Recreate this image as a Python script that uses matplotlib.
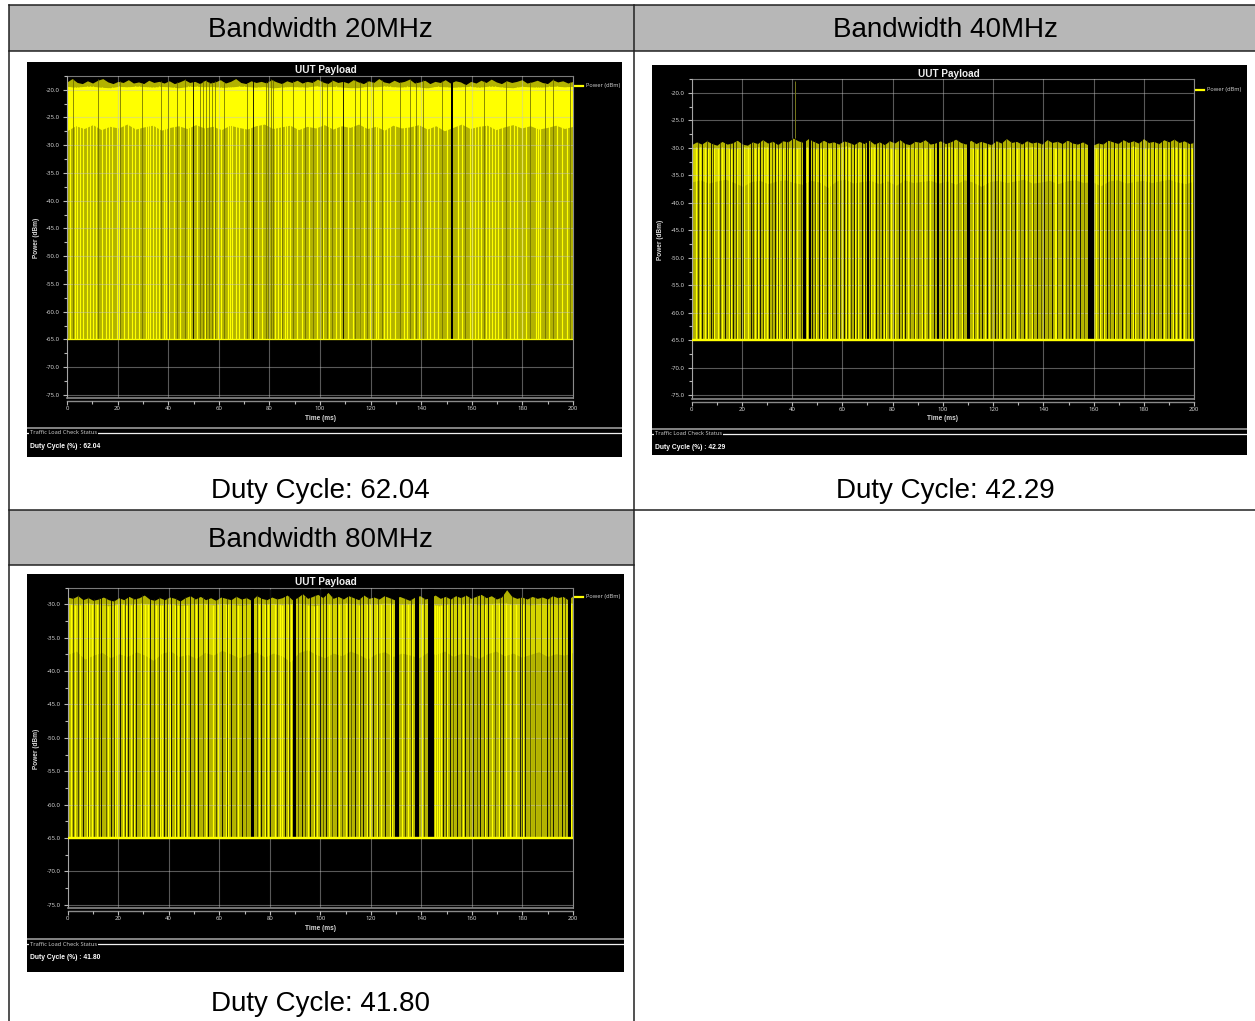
import numpy as np
import matplotlib
matplotlib.use('Agg')
import matplotlib.pyplot as plt
from matplotlib.patches import Rectangle

plt.rcParams['font.family'] = ['Noto Sans', 'DejaVu Sans']

W, H = 1255, 1021

# table text
HEADERS = ['Bandwidth 20MHz', 'Bandwidth 40MHz', 'Bandwidth 80MHz']
CAPTIONS = ['Duty Cycle: 62.04', 'Duty Cycle: 42.29', 'Duty Cycle: 41.80']
DUTY = ['62.04', '42.29', '41.80']

X_TICKS = [0, 20, 40, 60, 80, 100, 120, 140, 160, 180, 200]
Y_TICKS_A = [-20, -25, -30, -35, -40, -45, -50, -55, -60, -65, -70, -75]
Y_TICKS_C = [-30, -35, -40, -45, -50, -55, -60, -65, -70, -75]
FLOOR = -65.0

# 20 MHz
P1_TOP = [-18.6, -18.0, -18.7, -18.9, -18.4, -18.8, -18.3, -18.0, -18.6, -18.9, -18.5, -18.7, -18.2, -18.8, -18.6,
          -18.9, -18.3, -18.7, -18.5, -18.8, -18.4, -18.9, -18.6, -18.2, -18.7, -18.5, -18.9, -18.3, -18.8, -18.6,
          -18.2, -18.8, -18.5, -18.0, -18.7, -18.9, -18.4, -18.7, -18.5, -18.8, -18.2, -18.6, -18.9, -18.4, -18.7,
          -18.3, -18.8, -18.5, -18.7, -18.1, -18.6, -18.9, -18.3, -18.7, -18.5, -18.8, -18.2, -18.6, -18.9, -18.4,
          -18.7, -18.0, -18.6, -18.8, -18.3, -18.7, -18.5, -18.1, -18.8, -18.6, -18.3, -18.9, -18.5, -18.7, -18.2,
          -18.8, -18.4, -18.6, -19.1, -18.5, -18.8, -18.3, -18.7, -18.1, -18.6, -18.9, -18.4, -18.7, -18.5, -18.2,
          -18.8, -18.6, -18.3, -18.7, -18.9, -18.2, -18.6, -18.4, -18.8, -18.5]
P1_BRIGHT_TOP = [-19.4, -19.6, -19.3, -19.5, -19.7, -19.4, -19.5, -19.3, -19.6, -19.4, -19.5, -19.7, -19.3, -19.5, -19.4,
                 -19.6, -19.5, -19.3, -19.6, -19.4, -19.7, -19.5, -19.4, -19.6, -19.3, -19.5, -19.4, -19.6, -19.7, -19.4,
                 -19.5, -19.3, -19.6, -19.4, -19.5, -19.7, -19.3, -19.6, -19.5, -19.4, -19.6, -19.3, -19.5, -19.7, -19.4,
                 -19.5, -19.6, -19.3, -19.5, -19.4]
P1_SHOULDER = [-27.4, -26.5, -27.0, -26.3, -27.2, -26.6, -26.9, -26.2, -27.1, -26.7, -26.4, -27.3, -26.8, -26.5, -27.0,
               -26.3, -26.9, -26.6, -27.2, -26.4, -26.8, -27.1, -26.5, -26.2, -27.0, -26.7, -26.4, -27.2, -26.6, -26.9,
               -26.3, -27.1, -26.5, -26.8, -26.2, -27.0, -26.6, -27.3, -26.4, -26.9, -26.7, -26.3, -27.1, -26.5, -27.4,
               -26.8, -26.2, -27.0, -26.6, -26.4, -27.2, -26.7, -26.3, -26.9, -26.5, -27.1, -26.8, -26.4, -27.0, -26.6]
P1_BRIGHT = [1.2, 3.0, 4.1, 5.2, 6.3, 8.0, 9.1, 10.2, 11.4, 13.9, 15.5, 16.7, 17.8, 19.6, 20.5, 22.4, 24.2, 25.6,
             26.9, 28.5, 31.1, 32.0, 33.0, 34.1, 35.2, 36.3, 38.4, 39.3, 40.3, 42.1, 44.8, 47.9, 48.8, 51.2, 54.6,
             58.2, 59.5, 61.0, 63.5, 64.5, 65.4, 66.7, 67.9, 70.1, 72.2, 75.6, 77.0, 82.4, 83.4, 84.5, 86.0, 87.1,
             88.2, 91.0, 92.8, 95.7, 99.0, 101.3, 103.5, 106.2, 107.9, 111.1, 112.9, 115.7, 117.2, 119.9, 122.0,
             123.0, 125.2, 126.3, 127.6, 129.8, 133.1, 134.2, 137.0, 139.2, 142.3, 143.5, 144.9, 146.6, 150.0,
             154.5, 156.0, 159.2, 160.1, 161.1, 162.4, 163.7, 165.5, 166.7, 167.9, 169.0, 170.3, 172.0, 175.1,
             176.5, 177.8, 179.9, 181.5, 185.2, 186.1, 187.0, 190.6, 193.8, 195.6, 197.5]
P1_DIM = [2.5, 12.4, 21.0, 29.8, 37.2, 40.0, 43.6, 46.6, 52.5, 53.8, 55.0, 56.2, 57.4, 58.6, 62.2, 71.0, 78.6, 79.6,
          80.6, 81.6, 85.0, 89.5, 94.1, 97.4, 100.7, 102.6, 104.6, 113.8, 116.0, 118.4, 121.1, 124.5, 131.6, 135.6,
          138.0, 140.9, 148.1, 157.3, 165.0, 173.4, 183.0, 189.0, 192.2, 198.9]
P1_BLACK = [49.9, 73.6, 109.2]
P1_GAP_START = [151.6]
P1_GAP_END = [152.6]
P1_SPIKE = []

# 40 MHz
P2_TOP = [-29.4, -28.9, -29.3, -28.7, -29.2, -29.5, -28.8, -29.3, -29.1, -28.6, -29.3, -29.5, -28.9, -29.2, -28.5,
          -29.1, -28.8, -29.4, -28.7, -28.9, -28.2, -28.7, -29.0, -28.3, -28.8, -29.2, -28.6, -29.1, -28.9, -29.3,
          -28.7, -29.0, -29.4, -28.8, -29.2, -28.6, -29.3, -28.9, -29.4, -28.7, -29.1, -28.5, -29.2, -29.4, -28.8,
          -29.0, -28.5, -29.3, -29.1, -28.7, -29.2, -28.9, -28.4, -29.0, -29.3, -28.6, -29.2, -28.8, -29.1, -29.4,
          -28.7, -29.1, -28.3, -29.0, -28.8, -29.3, -28.7, -29.1, -28.9, -29.3, -28.5, -29.0, -28.8, -29.2, -28.6,
          -29.1, -29.3, -28.9, -29.4, -29.5, -29.1, -29.3, -28.6, -28.9, -29.2, -28.5, -29.0, -28.7, -29.1, -28.3,
          -29.0, -28.8, -29.2, -28.5, -28.9, -28.4, -29.0, -28.7, -29.2, -29.0]
P2_BRIGHT_TOP = [-30.0, -29.8, -30.1, -29.9, -30.2, -29.8, -30.0, -29.7, -30.1, -29.9, -30.0, -29.8, -30.2, -29.9, -30.0,
                 -29.7, -30.1, -29.9, -29.8, -30.0, -30.2, -29.8, -30.0, -29.9, -30.1, -29.7, -30.0, -29.9, -30.2, -29.8,
                 -30.0, -29.9, -30.1, -29.7, -30.0, -29.8, -30.2, -29.9, -30.0, -29.8, -30.1, -29.9, -30.0, -29.7, -30.1,
                 -29.9, -30.0, -29.8, -30.1, -29.9]
P2_SHOULDER = [-36.2, -35.8, -36.4, -36.0, -35.7, -36.3, -37.0, -36.1, -35.9, -36.5, -36.0, -35.8, -36.3, -36.6, -35.9,
               -36.2, -37.2, -36.0, -35.7, -36.4, -36.1, -35.9, -36.5, -36.0, -36.8, -35.8, -36.3, -36.1, -35.9, -36.4,
               -36.0, -36.6, -35.8, -36.2, -37.0, -36.1, -35.9, -36.3, -36.0, -35.7, -36.4, -36.2, -35.9, -36.5, -36.0,
               -35.8, -36.3, -36.1, -36.9, -36.0, -35.8, -36.4, -36.1, -35.9, -36.3, -36.0, -35.7, -36.2, -36.5, -36.0]
P2_BRIGHT = [1.8, 3.2, 5.5, 6.6, 9.0, 10.5, 12.0, 14.9, 15.8, 18.2, 21.0, 22.3, 25.4, 26.3, 29.0, 29.9, 32.0, 33.9,
             35.0, 36.2, 38.6, 40.5, 42.0, 45.8, 46.6, 49.5, 51.5, 52.3, 54.6, 55.6, 58.8, 59.8, 61.5, 62.5, 65.0,
             66.2, 68.5, 70.0, 71.5, 72.5, 74.6, 76.5, 77.4, 79.5, 81.0, 84.0, 86.0, 87.0, 89.0, 91.5, 93.0, 95.0,
             98.0, 100.8, 102.5, 103.0, 105.0, 106.0, 107.5, 112.0, 113.5, 116.6, 118.5, 119.3, 122.2, 124.5, 125.0,
             126.7, 129.5, 130.5, 133.0, 134.0, 135.6, 139.0, 142.0, 144.4, 145.0, 148.0, 149.0, 152.0, 153.0, 156.3,
             161.0, 162.5, 164.0, 166.5, 168.5, 169.6, 172.0, 173.0, 175.5, 176.5, 178.0, 180.5, 181.5, 184.5, 185.5,
             188.0, 189.0, 191.5, 192.8, 194.5, 196.0, 197.0, 199.0]
P2_DIM = [2.6, 6.0, 8.5, 11.3, 15.2, 17.6, 20.6, 24.6, 26.0, 28.5, 32.0, 34.5, 36.0, 38.5, 41.0, 43.5, 49.0, 52.0,
          56.0, 59.0, 62.0, 63.5, 66.0, 69.2, 71.0, 74.5, 77.0, 78.5, 80.5, 83.6, 87.0, 88.5, 90.2, 92.0, 94.0,
          98.2, 100.6, 103.0, 106.0, 107.8, 112.5, 114.5, 119.0, 122.0, 125.0, 127.0, 130.5, 134.0, 136.0, 139.0,
          142.0, 145.5, 149.0, 150.2, 153.0, 156.0, 162.0, 163.7, 166.5, 169.5, 173.0, 176.0, 178.0, 181.0, 182.5,
          185.5, 189.0, 192.0, 193.5, 197.0, 199.4]
P2_BLACK = [4.2, 7.6, 13.2, 16.6, 19.5, 23.5, 27.4, 30.8, 33.1, 37.4, 39.8, 48.0, 50.9, 53.9, 57.3, 60.6, 64.6, 67.9,
            73.2, 75.8, 82.4, 85.1, 96.3, 99.7, 101.7, 104.0, 115.6, 117.6, 120.9, 123.5, 128.8, 132.1, 137.5, 140.1,
            143.4, 147.4, 151.4, 154.7, 165.3, 167.9, 171.2, 174.5, 179.2, 183.8, 187.2, 190.5, 195.1, 198.4]
P2_GAP_START = [44.3, 46.9, 69.8, 97.6, 109.4, 157.6]
P2_GAP_END = [45.5, 47.6, 70.5, 98.3, 110.6, 160.0]
P2_SPIKE = [41.3]

# 80 MHz
P3_TOP = [-28.9, -29.1, -28.7, -29.3, -29.0, -29.4, -29.2, -28.9, -29.3, -29.5, -29.0, -29.3, -28.8, -29.2, -29.0,
          -28.6, -29.2, -29.4, -29.0, -29.3, -28.9, -29.1, -29.5, -29.0, -28.7, -29.2, -28.8, -29.3, -29.0, -29.4,
          -28.9, -29.1, -29.3, -28.8, -29.2, -29.0, -29.4, -28.7, -29.1, -29.3, -28.9, -29.2, -29.0, -28.6, -29.3,
          -29.0, -28.4, -29.1, -28.8, -28.5, -29.0, -28.2, -29.1, -28.8, -29.2, -28.7, -29.0, -29.3, -28.6, -29.1,
          -28.9, -29.2, -28.7, -29.0, -29.3, -28.8, -29.1, -29.4, -28.9, -28.7, -29.2, -29.0, -28.6, -29.1, -28.8,
          -29.2, -28.7, -29.0, -28.6, -29.1, -28.8, -28.5, -29.0, -28.7, -29.2, -28.9, -27.8, -28.8, -29.1, -28.9,
          -29.2, -28.8, -29.1, -28.9, -29.2, -28.7, -29.0, -28.8, -29.3, -28.7]
P3_BRIGHT_TOP = [-29.9, -30.1, -29.8, -30.0, -30.2, -29.9, -30.1, -29.8, -30.0, -30.1, -29.9, -30.2, -30.0, -29.8, -30.1,
                 -29.9, -30.0, -30.2, -29.8, -30.0, -29.9, -30.1, -29.8, -30.0, -30.2, -29.9, -30.0, -29.8, -30.1, -29.9,
                 -30.0, -29.7, -30.1, -29.9, -30.0, -29.8, -30.2, -29.9, -30.0, -29.8, -30.1, -29.9, -29.7, -30.0, -29.9,
                 -30.1, -29.8, -30.0, -29.9, -29.8]
P3_SHOULDER = [-37.5, -37.0, -38.2, -37.6, -37.2, -38.0, -37.4, -37.8, -37.1, -37.6, -38.4, -37.3, -37.0, -37.8, -37.5,
               -38.1, -37.2, -37.6, -36.9, -37.4, -38.0, -37.5, -37.1, -37.9, -37.3, -37.7, -38.6, -37.2, -36.8, -37.5,
               -38.0, -37.3, -37.7, -37.0, -37.5, -38.2, -37.4, -37.1, -37.8, -37.3, -37.6, -38.0, -37.2, -37.5, -37.0,
               -37.8, -37.3, -37.6, -38.1, -37.4, -37.0, -37.7, -37.3, -37.9, -37.5, -37.1, -37.8, -37.4, -37.6, -37.2]
P3_BRIGHT = [1.5, 3.0, 5.0, 7.6, 8.6, 9.6, 11.5, 12.4, 15.0, 16.0, 18.6, 19.4, 22.0, 23.0, 25.0, 26.2, 29.0, 30.5,
             31.6, 34.8, 36.5, 37.4, 39.6, 40.4, 42.6, 43.6, 46.0, 47.3, 49.8, 50.8, 53.5, 54.6, 57.5, 59.5, 62.5,
             63.5, 66.5, 67.6, 70.5, 74.8, 75.8, 78.0, 79.2, 82.0, 84.0, 85.0, 87.0, 88.2, 91.0, 94.0, 95.0, 97.5,
             98.8, 101.0, 103.5, 104.5, 107.5, 108.5, 110.0, 112.3, 115.2, 118.5, 119.8, 122.5, 124.0, 127.5, 128.5,
             132.5, 134.8, 136.2, 140.4, 145.4, 146.2, 147.0, 147.8, 150.0, 152.5, 155.5, 156.4, 159.0, 162.0, 165.0,
             167.8, 169.0, 170.8, 173.5, 175.0, 177.5, 180.2, 183.0, 185.0, 187.5, 191.0, 194.0, 197.0, 199.4]
P3_DIM = [2.2, 4.2, 8.0, 10.5, 12.5, 15.0, 18.2, 22.5, 26.0, 29.5, 34.0, 36.2, 39.5, 43.0, 46.5, 50.0, 53.5, 58.5,
          63.0, 66.5, 70.5, 75.0, 78.5, 83.0, 87.5, 91.0, 94.0, 97.8, 101.0, 104.5, 108.5, 112.3, 115.5, 119.0,
          123.0, 128.0, 133.5, 136.0, 141.0, 149.8, 152.5, 155.5, 159.0, 162.0, 164.8, 169.0, 171.0, 175.8, 180.0,
          183.0, 185.0, 187.5, 191.0, 194.0, 197.0]
P3_BLACK = [6.1, 13.3, 17.0, 20.6, 23.9, 27.2, 32.5, 38.2, 41.0, 44.4, 48.3, 51.6, 55.6, 60.9, 64.8, 68.8, 76.7, 80.0,
            86.0, 92.6, 95.8, 99.8, 102.4, 106.4, 110.9, 113.7, 116.8, 120.9, 125.5, 148.6, 151.3, 153.9, 157.2,
            160.5, 163.2, 166.5, 172.4, 179.0, 181.0, 189.6, 192.2, 195.5]
P3_GAP_START = [72.4, 89.0, 129.6, 137.4, 142.7, 198.0]
P3_GAP_END = [73.8, 90.3, 131.0, 139.1, 145.0, 199.1]
P3_SPIKE = []

BRIGHT = '#ffff00'
OLIVE = '#b2b200'
GRID = '#c4c4c4'
BOLD = ['Liberation Sans', 'DejaVu Sans']


def draw_chart(fig, box, axes_box, ylim, yticks, legend_y, lines_y, duty, top, bright_top, shoulder,
               bright, dim, black, gap_start, gap_end, spike, dim_color, band_color, floor_lw):
    x0, y0, x1, y1 = box
    back = fig.add_axes([x0/W, 1 - y1/H, (x1-x0)/W, (y1-y0)/H])
    back.set_facecolor('black')
    back.set_xlim(x0, x1)
    back.set_ylim(y1, y0)
    back.set_xticks([])
    back.set_yticks([])
    for s in back.spines.values():
        s.set_visible(False)

    # status box and legend are placed in pixels
    back.plot([x0, x1], [lines_y[0]]*2, color='#9a9a9a', lw=1.2)
    back.plot([x0, x1], [lines_y[1]]*2, color='#f0f0f0', lw=0.9)
    back.text(x0+3, lines_y[1], 'Traffic Load Check Status', color='#c8c8c8', fontsize=4.1, va='center',
              bbox=dict(facecolor='black', edgecolor='none', pad=0.6))
    back.text(x0+3, lines_y[1]+13.5, f'Duty Cycle (%) : {duty}', color='white', fontsize=4.9,
              family=BOLD, fontweight='bold', va='center')

    ax_l, ax_t, ax_r, ax_b = axes_box
    back.plot([ax_r+2, ax_r+10], [legend_y]*2, color=BRIGHT, lw=1.6)
    back.text(ax_r+13, legend_y, 'Power (dBm)', color='#c8c8c8', fontsize=4.1, va='center')
    back.text((ax_l+ax_r)/2 + 6, ax_t - 5.5, 'UUT Payload', color='#f0f0f0', fontsize=7.2,
              family=BOLD, fontweight='bold', ha='center', va='center')
    back.text((ax_l+ax_r)/2 - 0, ax_b + 20, 'Time (ms)', color='#d8d8d8', fontsize=4.7,
              family=BOLD, fontweight='bold', ha='center', va='center')
    back.text(ax_l - 31, (ax_t+ax_b)/2 + 1, 'Power (dBm)', color='#d8d8d8', fontsize=4.7,
              family=BOLD, fontweight='bold', rotation=90, ha='center', va='center')

    ax = fig.add_axes([ax_l/W, 1 - ax_b/H, (ax_r-ax_l)/W, (ax_b-ax_t)/H])
    ax.set_facecolor('black')
    ax.set_xlim(0, 200)
    ax.set_ylim(*ylim)

    xt = np.linspace(0, 200, len(top))
    xb = np.linspace(0, 200, len(bright_top))
    xs = np.linspace(0, 200, len(shoulder))
    ax.fill_between(xt, FLOOR, top, color=OLIVE, lw=0, zorder=1)
    ax.fill_between(xs, shoulder, np.interp(xs, xb, bright_top), color=band_color, lw=0, zorder=2)

    top_at = lambda t: np.interp(t, xt, top)
    ceil = np.max(top) + 0.1
    ax.vlines(bright, FLOOR, np.interp(bright, xb, bright_top), color=BRIGHT, lw=0.85, zorder=2)
    ax.vlines(dim, FLOOR, top_at(dim) + 0.1, color=dim_color, lw=0.55, zorder=3)
    ax.vlines(black, FLOOR, ceil, color='black', lw=0.6, zorder=3)
    if spike:
        ax.vlines(spike, np.max(top), ylim[1], color='#77771a', lw=0.7, zorder=3)
    for a, b in zip(gap_start, gap_end):
        ax.bar(a, ceil - FLOOR, width=b - a, bottom=FLOOR, align='edge', color='black', lw=0, zorder=3)
    ax.hlines(FLOOR, 0, 200, color=BRIGHT, lw=floor_lw, zorder=4)

    # grid lies over the trace
    ax.set_axisbelow(False)
    ax.set_xticks(X_TICKS)
    ax.set_yticks(yticks)
    ax.set_yticklabels([f'{v:.1f}' for v in yticks])
    ax.set_xticks([t + 10 for t in X_TICKS[:-1]], minor=True)
    ax.set_yticks([v - 2.5 for v in yticks[:-1]] + [yticks[0] + 2.5], minor=True)
    ax.grid(True, which='major', color=GRID, lw=0.8, alpha=0.45, zorder=5)
    ax.tick_params(axis='both', which='major', colors='#b8b8b8', labelcolor='#d0d0d0', labelsize=4.4,
                   length=3, width=0.8, pad=2)
    ax.tick_params(axis='x', which='major', pad=1)
    ax.tick_params(axis='both', which='minor', colors='#b8b8b8', length=2, width=0.8)
    ax.spines['top'].set_color('#7a7a7a')
    ax.spines['right'].set_color('#8a8a8a')
    ax.spines['left'].set_color('#8a8a8a')
    ax.spines['bottom'].set_position(('outward', 2))
    ax.spines['bottom'].set_color('#8a8a8a')
    ax.axhline(ylim[0], color='#8a8a8a', lw=1.2, zorder=5, clip_on=False)
    ax.spines['bottom'].set_linewidth(1.0)
    return ax


fig = plt.figure(figsize=(W/100, H/100), dpi=100, facecolor='white')

# table in pixel coordinates
tb = fig.add_axes([0, 0, 1, 1], zorder=0)
tb.set_xlim(0, W)
tb.set_ylim(H, 0)
tb.axis('off')
HEAD = '#b7b7b7'
tb.add_patch(Rectangle((9, 5), 625, 46, fc=HEAD, ec='none'))
tb.add_patch(Rectangle((634, 5), 621, 46, fc=HEAD, ec='none'))
tb.add_patch(Rectangle((9, 510), 625, 55, fc=HEAD, ec='none'))
for y, a, b in [(5, 9, W), (51, 9, W), (509.5, 9, W), (565, 9, 634)]:
    tb.plot([a, b], [y, y], color='#222222', lw=1.1)
tb.plot([9, 9], [5, H], color='#222222', lw=1.1)
tb.plot([634, 634], [5, H], color='#222222', lw=1.1)
txt = dict(family=['Liberation Sans', 'DejaVu Sans'], fontsize=20, color='black', ha='center', va='center')
tb.text(320.5, 30, HEADERS[0], **txt)
tb.text(945.5, 30, HEADERS[1], **txt)
tb.text(320.5, 540, HEADERS[2], **txt)
tb.text(320.5, 491, CAPTIONS[0], **txt)
tb.text(945.5, 491, CAPTIONS[1], **txt)
tb.text(320.5, 1004, CAPTIONS[2], **txt)

draw_chart(fig, (27, 62, 622, 457), (67, 75.7, 573, 398), (-75.55, -17.48), Y_TICKS_A, 86, (428.5, 433), DUTY[0],
           P1_TOP, P1_BRIGHT_TOP, P1_SHOULDER, P1_BRIGHT, P1_DIM, P1_BLACK, P1_GAP_START, P1_GAP_END, P1_SPIKE,
           '#6c6c00', BRIGHT, 0.9)
draw_chart(fig, (652, 65, 1247, 455), (691.5, 79.3, 1194.3, 399), (-75.7, -17.9), Y_TICKS_A, 90, (429, 433.7), DUTY[1],
           P2_TOP, P2_BRIGHT_TOP, P2_SHOULDER, P2_BRIGHT, P2_DIM, P2_BLACK, P2_GAP_START, P2_GAP_END, P2_SPIKE,
           '#303000', '#d4d400', 1.7)
draw_chart(fig, (27, 574, 624, 972), (67.7, 587.7, 573, 908), (-75.5, -27.5), Y_TICKS_C, 597, (939.3, 944), DUTY[2],
           P3_TOP, P3_BRIGHT_TOP, P3_SHOULDER, P3_BRIGHT, P3_DIM, P3_BLACK, P3_GAP_START, P3_GAP_END, P3_SPIKE,
           '#303000', '#d4d400', 1.7)

fig.savefig('out.png', dpi=100, facecolor='white')
